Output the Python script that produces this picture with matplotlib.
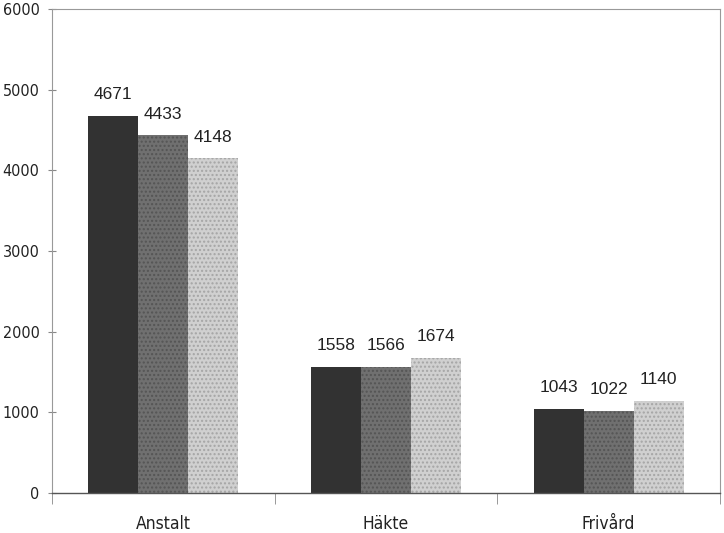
import matplotlib
matplotlib.use("Agg")
import matplotlib.pyplot as plt
import numpy as np

categories = ["Anstalt", "Häkte", "Frivård"]
series1 = [4671, 1558, 1043]
series2 = [4433, 1566, 1022]
series3 = [4148, 1674, 1140]
yticks = [0, 1000, 2000, 3000, 4000, 5000, 6000]

plt.rcParams['hatch.linewidth'] = 1.0

fig = plt.figure(figsize=(7.24, 5.33), dpi=100)
ax = fig.add_axes([0.0718, 0.075, 0.9227, 0.908])

x = np.arange(len(categories))
w = 0.225
styles = [
    dict(color="#323232", hatch=None),
    dict(color="#707070", hatch="....", ec="#555555"),
    dict(color="#d0d0d0", hatch="....", ec="#a5a5a5"),
]
for i, (vals, st) in enumerate(zip([series1, series2, series3], styles)):
    pos = x + (i - 1) * w
    ax.bar(pos, vals, width=w, color=st["color"], hatch=st["hatch"],
           edgecolor=st.get("ec", st["color"]), linewidth=0)
    for p, v in zip(pos, vals):
        ax.annotate(str(v), (p, v), xytext=(0, 10), textcoords="offset points",
                    ha="center", va="bottom", fontsize=12.5, family="Liberation Sans",
                    color="#222222")

ax.set_xlim(-0.5, 2.5)
ax.set_ylim(0, 6000)
ax.set_yticks(yticks)
ax.set_yticklabels([str(t) for t in yticks], fontsize=11.5, family="DejaVu Sans",
                   fontstretch="condensed", color="#222222")
ax.set_xticks(x)
ax.set_xticklabels(categories, fontsize=12.5, family="DejaVu Sans",
                   fontstretch="condensed", color="#222222")
ax.tick_params(axis="x", which="major", length=0, pad=16)
ax.set_xticks([-0.5, 0.5, 1.5, 2.5], minor=True)
ax.tick_params(axis="x", which="minor", length=8, direction="out", color="#888888")
ax.tick_params(axis="y", length=6, direction="inout", color="#888888", pad=6)
for s in ["top", "right", "left"]:
    ax.spines[s].set_color("#999999")
    ax.spines[s].set_linewidth(0.8)
ax.spines["bottom"].set_color("#555555")
ax.spines["bottom"].set_linewidth(1.0)

fig.savefig("out.png", dpi=100)
